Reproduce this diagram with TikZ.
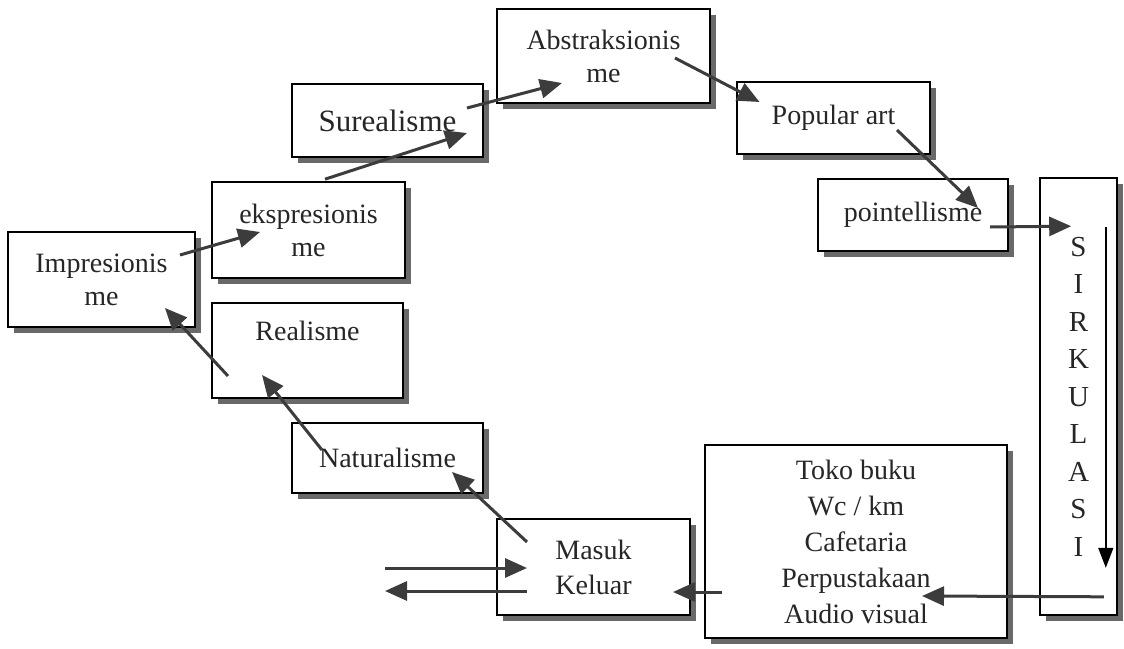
\documentclass[tikz,border=0pt]{standalone}
\usepackage{fontspec}
\setmainfont{Liberation Serif}
\usetikzlibrary{arrows.meta,shadows}
\definecolor{arrowgray}{RGB}{60,60,60}
\definecolor{shadowgray}{RGB}{105,105,105}
\tikzset{
  stage/.style={
    draw=black,
    line width=1.6pt,
    fill=white,
    align=center,
    inner sep=0pt,
    text=black!85,
    font=\fontsize{28}{33}\selectfont,
    drop shadow={shadow xshift=6pt, shadow yshift=-6pt, fill=shadowgray, opacity=1}
  },
  stage-top/.style={text height=20pt, text depth=41pt},
  flow/.style={draw=arrowgray, line width=3pt, -{Triangle[length=22pt,width=19pt]}},
  flow-thin/.style={draw=black, line width=1.4pt, -{Triangle[length=20pt,width=15pt]}}
}

\begin{document}
\begin{tikzpicture}[x=1pt, y=-1pt]
  \useasboundingbox (0,0) rectangle (1124,648);
  % Aliran seni
  \node[stage, minimum width=187pt, minimum height=95pt] (impr) at (101.5,279.5) {Impresionis\\me};
  \node[stage, minimum width=193pt, minimum height=96pt] (ekspr) at (308.5,230) {ekspresionis\\me};
  \node[stage, minimum width=191pt, minimum height=73pt, font=\fontsize{31}{33}\selectfont] (sur) at (387.5,120.5) {Surealisme};
  \node[stage, minimum width=213pt, minimum height=94pt] (abs) at (603.5,56) {Abstraksionis\\me};
  \node[stage, minimum width=193pt, minimum height=72pt] (pop) at (833.5,118) {Popular art};
  \node[stage, minimum width=190pt, minimum height=72pt] (poin) at (913,215) {pointellisme};
  \node[stage, stage-top, minimum width=191pt, minimum height=95pt] (real) at (307.5,350.5) {Realisme};
  \node[stage, minimum width=191pt, minimum height=70pt] (nat) at (387.5,458) {Naturalisme};
  % Sirkulasi dan fasilitas
  \node[stage, minimum width=77pt, minimum height=437pt, font=\fontsize{29}{37.5}\selectfont] (sirk) at (1078.5,396.5) {S\\I\\R\\K\\U\\L\\A\\S\\I};
  \node[stage, minimum width=302pt, minimum height=193pt, font=\fontsize{28}{36}\selectfont] (toko) at (856,541.5) {Toko buku\\Wc / km\\Cafetaria\\Perpustakaan\\Audio visual};
  \node[stage, minimum width=193pt, minimum height=96pt, font=\fontsize{28}{35}\selectfont] (masuk) at (593.5,567) {Masuk\\Keluar};
  \coordinate (sirk-top) at ([shift={(-12,50)}]sirk.north east);
  \coordinate (sirk-bot) at ([shift={(-12,-48)}]sirk.south east);
  \coordinate (in-start) at (385,568);
  \coordinate (out-end) at (385,591);

  % Naik dari pintu masuk
  \draw[flow] (in-start) -- ([shift={(-66.5,1)}]masuk.center);
  \draw[flow] ([shift={(-66.5,24)}]masuk.center) -- (out-end);
  \draw[flow] ([shift={(-66.5,-25)}]masuk.center) -- ([shift={(64.5,14)}]nat.center);
  \draw[flow] ([shift={(-65.5,-8)}]nat.center) -- ([shift={(-45.5,24.5)}]real.center);
  \draw[flow] ([shift={(-79.5,25.5)}]real.center) -- ([shift={(63.5,28.5)}]impr.center);
  \draw[flow] ([shift={(78.5,-24.5)}]impr.center) -- ([shift={(-48.5,2)}]ekspr.center);
  \draw[flow] ([shift={(16.5,-2)}]ekspr.north) -- ([shift={(79.5,12.5)}]sur.center);
  \draw[flow] ([shift={(79.5,-12.5)}]sur.center) -- ([shift={(-41.5,27)}]abs.center);
  \draw[flow] ([shift={(71.5,2)}]abs.center) -- ([shift={(-74,-16)}]pop.center);
  \draw[flow] ([shift={(63.5,12)}]pop.center) -- ([shift={(65,-7)}]poin.center);
  \draw[flow] ([shift={(77,12)}]poin.center) -- ([shift={(32,49)}]sirk.north west);
  % Turun lewat sirkulasi
  \draw[flow-thin] (sirk-top) -- (sirk-bot);
  \draw[flow] ([shift={(-14,-19)}]sirk.south east) -- ([shift={(66,54.5)}]toko.center);
  \draw[flow] ([shift={(-134,50.5)}]toko.center) -- ([shift={(79.5,25)}]masuk.center);
\end{tikzpicture}
\end{document}
